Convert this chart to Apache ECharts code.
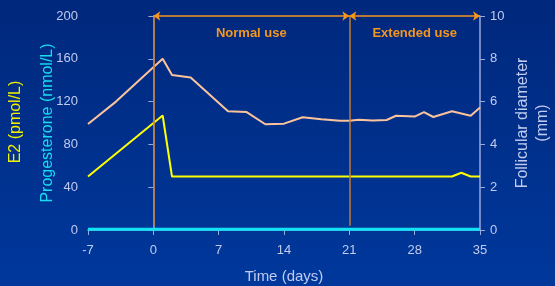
<!DOCTYPE html>
<html><head><meta charset="utf-8">
<script src="https://cdn.jsdelivr.net/npm/echarts@6/dist/echarts.min.js"></script>
<style>html,body{margin:0;padding:0;background:#00308a}#c{width:555px;height:286px}</style>
</head><body><div id="c"></div>
<script>
const xTicks = [-7, 0, 7, 14, 21, 28, 35];
const follDays = [-7, -4, 1, 2, 4, 8, 10, 12, 14, 16, 18, 20, 21, 22, 23.5, 25, 26, 28, 29, 30, 32, 34, 35];
const follVals = [4.95, 6.0, 8.0, 7.24, 7.13, 5.55, 5.51, 4.94, 4.97, 5.27, 5.17, 5.11, 5.11, 5.15, 5.12, 5.14, 5.34, 5.30, 5.51, 5.28, 5.55, 5.34, 5.72];
const e2Days = [-7, 1, 2, 32, 33, 34, 35];
const e2Vals = [50, 107, 50, 50, 53.5, 50, 50];
const progDays = [-7, 0, 7, 14, 21, 28, 35];
const progVals = [0.8, 0.8, 0.8, 0.8, 0.8, 0.8, 0.8];
const phaseBounds = [0, 21, 35];
const phaseLabels = ['Normal use', 'Extended use'];

const zip = (a, b) => a.map((v, i) => [v, b[i]]);
const F = 'Liberation Sans, Arial, sans-serif';
const axisCol = '#9aa8dc';
const labCol = '#c0cbf0';
const orange = '#f5961e';

const chart = echarts.init(document.getElementById('c'));
chart.setOption({
  animation: false,
  backgroundColor: {type: 'linear', x: 0, y: 0, x2: 0, y2: 1, colorStops: [{offset: 0, color: '#00287c'}, {offset: 1, color: '#00389c'}]},
  grid: {left: 88, right: 75, top: 16, bottom: 56, outerBoundsMode: 'none', containLabel: false},
  xAxis: {
    type: 'value', min: -7, max: 35, interval: 7,
    name: 'Time (days)', nameLocation: 'middle', nameGap: 39, nameMoveOverlap: false,
    nameTextStyle: {color: labCol, fontSize: 15, fontFamily: F},
    axisLine: {lineStyle: {color: axisCol, width: 1.5}},
    axisTick: {lineStyle: {color: axisCol}, length: 5},
    axisLabel: {color: labCol, fontSize: 13, fontFamily: F, margin: 14},
    splitLine: {show: false}
  },
  yAxis: [{
    type: 'value', min: 0, max: 200, interval: 40, position: 'left',
    name: 'Progesterone (nmol/L)', nameLocation: 'middle', nameGap: 32, nameMoveOverlap: false,
    nameTextStyle: {color: '#18dcf0', fontSize: 16, fontFamily: F},
    axisLine: {show: true, lineStyle: {color: axisCol, width: 1.5}},
    axisTick: {show: true, lineStyle: {color: axisCol}, length: 5},
    axisLabel: {color: labCol, fontSize: 13, fontFamily: F, margin: 10},
    splitLine: {show: false}
  }, {
    type: 'value', min: 0, max: 10, interval: 2, position: 'right',
    name: 'Follicular diameter\n(mm)', nameLocation: 'middle', nameGap: 33, nameMoveOverlap: false,
    nameTextStyle: {color: labCol, fontSize: 16, fontFamily: F, lineHeight: 20},
    axisLine: {show: true, lineStyle: {color: axisCol, width: 1.5}},
    axisTick: {show: true, lineStyle: {color: axisCol}, length: 5},
    axisLabel: {color: labCol, fontSize: 13, fontFamily: F, margin: 10},
    splitLine: {show: false}
  }],
  graphic: [{
    type: 'text', rotation: Math.PI / 2, x: 16, y: 122,
    style: {text: 'E2 (pmol/L)', fill: '#f0f000', font: '16px ' + F, textAlign: 'center', textVerticalAlign: 'middle'}
  }],
  series: [{
    type: 'line', yAxisIndex: 1, data: zip(follDays, follVals), symbol: 'none',
    lineStyle: {color: '#fcc49c', width: 2}, z: 3,
    markLine: {
      silent: true, symbol: ['none', 'none'], label: {show: false},
      lineStyle: {color: '#c07a30', width: 1.5, type: 'solid'},
      data: [
        [{coord: [phaseBounds[0], 0.2]}, {coord: [phaseBounds[0], 10]}],
        [{coord: [phaseBounds[1], 0.2]}, {coord: [phaseBounds[1], 10]}]
      ]
    }
  }, {
    type: 'line', yAxisIndex: 1, data: [], symbol: 'none',
    markLine: {
      silent: true, symbol: ['arrow', 'arrow'], symbolSize: [7, 7],
      lineStyle: {color: orange, width: 1.5, type: 'solid'},
      label: {show: true, position: 'middle', formatter: p => p.name, color: orange, fontSize: 13, fontWeight: 'bold', fontFamily: F, distance: -24},
      data: [
        [{name: phaseLabels[0], coord: [phaseBounds[0], 10]}, {coord: [phaseBounds[1], 10]}],
        [{name: phaseLabels[1], coord: [phaseBounds[1], 10]}, {coord: [phaseBounds[2], 10]}]
      ]
    }
  }, {
    type: 'line', yAxisIndex: 0, data: zip(e2Days, e2Vals), symbol: 'none',
    lineStyle: {color: '#ffff00', width: 2}, z: 4
  }, {
    type: 'line', yAxisIndex: 0, data: zip(progDays, progVals), symbol: 'none',
    lineStyle: {color: '#10e4f4', width: 3}, z: 5
  }]
});
</script></body></html>
